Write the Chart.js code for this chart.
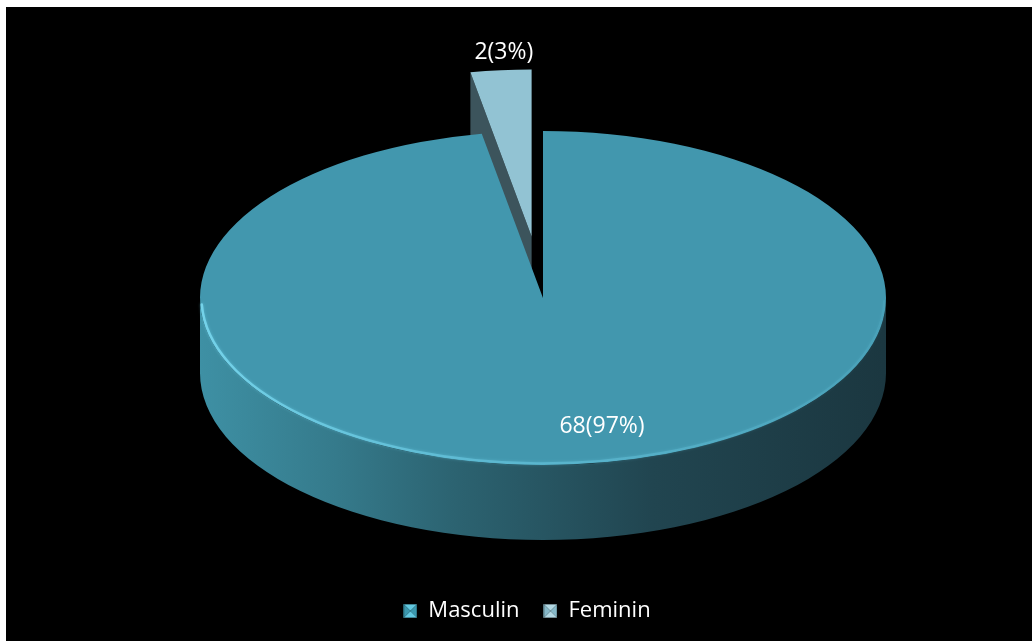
<!DOCTYPE html>
<html>
<head>
<meta charset="utf-8">
<script src="https://cdn.jsdelivr.net/npm/chart.js@4.4.1/dist/chart.umd.min.js"></script>
<style>
    html, body { margin: 0; padding: 0; background: #fff; }
    #wrap { position: absolute; left: 6px; top: 7px; width: 1026px; height: 634px; background: #000; }
</style>
</head>
<body>
<div id="wrap"><canvas id="chartGender"></canvas></div>
<script>
const categories = ['Masculin', 'Feminin'];
const counts = [68, 2];

// Mặt trên, thành bên và mặt cắt của từng miếng
const topColors = ['#4297ae', '#92c3d3'];
const wallStops = [
    ['#3e90a4', '#357a8b', '#2c6371', '#214550', '#1b3740'],
    ['#56727b', '#4a646c', '#3c545c', '#314549', '#2a3a3f']
];
const faceColors = ['#2c6371', '#3c545c'];
const markerColors = [['#62c9e1', '#3b98ae'], ['#b2d8e4', '#86b8c8']];

// Phép chiếu 3D (toạ độ trong canvas)
const CX = 537, CY = 291, RX = 343, RY = 167, DEPTH = 75;
const EXPLODE = [0, 0.37];

const total = counts.reduce((a, b) => a + b, 0);
const labelTexts = counts.map(v => `${v}(${Math.round(v / total * 100)}%)`);

function shiftOf(arc, i) {
    const mid = (arc.startAngle + arc.endAngle) / 2;
    return [RX * EXPLODE[i] * Math.cos(mid), RY * EXPLODE[i] * Math.sin(mid)];
}

function ePoint(a, sx, sy) {
    return [CX + sx + RX * Math.cos(a), CY + sy + RY * Math.sin(a)];
}

// --- Ô vuông chú thích kiểu vát cạnh ---
function bevelMarker(light, dark) {
    const c = document.createElement('canvas');
    c.width = 14; c.height = 14;
    const g = c.getContext('2d');
    const tri = (pts, col) => {
        g.beginPath();
        g.moveTo(pts[0], pts[1]); g.lineTo(pts[2], pts[3]); g.lineTo(7, 7);
        g.closePath();
        g.fillStyle = col;
        g.fill();
    };
    tri([0, 0, 14, 0], light);
    tri([14, 0, 14, 14], dark);
    tri([14, 14, 0, 14], light);
    tri([0, 14, 0, 0], dark);
    g.strokeStyle = 'rgba(0,0,0,0.35)';
    g.lineWidth = 1;
    g.strokeRect(0.5, 0.5, 13, 13);
    return c;
}
const markers = markerColors.map(m => bevelMarker(m[0], m[1]));

// --- Vẽ bánh 3D: mặt cắt, thành bên rồi mới tới mặt trên ---
const pie3d = {
    id: 'pie3d',
    beforeDatasetsDraw(chart) {
        const ctx = chart.ctx;
        const arcs = chart.getDatasetMeta(0).data;

        // mặt cắt nhìn thấy được của các miếng
        arcs.forEach((arc, i) => {
            const [sx, sy] = shiftOf(arc, i);
            const edges = [[arc.startAngle, arc.startAngle - Math.PI / 2], [arc.endAngle, arc.endAngle + Math.PI / 2]];
            edges.forEach(([a, normal]) => {
                if (Math.sin(normal) <= 0.01) return;
                const [ox, oy] = ePoint(a, sx, sy);
                const vx = CX + sx, vy = CY + sy;
                ctx.beginPath();
                ctx.moveTo(vx, vy);
                ctx.lineTo(ox, oy);
                ctx.lineTo(ox, oy + DEPTH);
                ctx.lineTo(vx, vy + DEPTH);
                ctx.closePath();
                ctx.fillStyle = faceColors[i];
                ctx.fill();
            });
        });

        // thành bên phía trước (góc 0..PI)
        arcs.forEach((arc, i) => {
            const [sx, sy] = shiftOf(arc, i);
            [0, 2 * Math.PI].forEach(base => {
                const a0 = Math.max(arc.startAngle, base);
                const a1 = Math.min(arc.endAngle, base + Math.PI);
                if (a1 <= a0) return;
                const grad = ctx.createLinearGradient(CX - RX, 0, CX + RX, 0);
                const stops = wallStops[i];
                [0, 0.2, 0.37, 0.66, 1].forEach((p, k) => grad.addColorStop(p, stops[k]));
                ctx.beginPath();
                ctx.ellipse(CX + sx, CY + sy, RX, RY, 0, a0, a1);
                ctx.ellipse(CX + sx, CY + sy + DEPTH, RX, RY, 0, a1, a0, true);
                ctx.closePath();
                ctx.fillStyle = grad;
                ctx.fill();
            });
        });

        // mặt trên: dùng chính ArcElement của Chart.js, ép thành elip
        arcs.forEach((arc, i) => {
            const [sx, sy] = shiftOf(arc, i);
            ctx.save();
            ctx.translate(CX + sx, CY + sy);
            ctx.scale(RX / arc.outerRadius, RY / arc.outerRadius);
            ctx.translate(-arc.x, -arc.y);
            arc.draw(ctx);
            ctx.restore();
        });

        // viền sáng ở mép trước mặt trên
        const rim = ctx.createLinearGradient(CX - RX, 0, CX + RX, 0);
        rim.addColorStop(0, 'rgba(120,215,238,0.9)');
        rim.addColorStop(0.4, 'rgba(105,200,225,0.6)');
        rim.addColorStop(1, 'rgba(100,195,220,0.15)');
        ctx.save();
        ctx.beginPath();
        ctx.ellipse(CX, CY, RX - 1.5, RY - 1.5, 0, 0.02, Math.PI - 0.04);
        ctx.strokeStyle = rim;
        ctx.lineWidth = 2.5;
        ctx.lineCap = 'round';
        ctx.shadowColor = 'rgba(110,210,235,0.6)';
        ctx.shadowBlur = 3;
        ctx.stroke();
        ctx.restore();

        return false;
    },
    afterDraw(chart) {
        const ctx = chart.ctx;
        const arcs = chart.getDatasetMeta(0).data;
        ctx.save();
        ctx.font = '23px "Open Sans"';
        ctx.fillStyle = '#ffffff';
        ctx.textAlign = 'center';
        ctx.textBaseline = 'middle';
        arcs.forEach((arc, i) => {
            const [sx, sy] = shiftOf(arc, i);
            const mid = (arc.startAngle + arc.endAngle) / 2;
            const share = counts[i] / total;
            if (share > 0.1) {
                // nhãn nằm trong miếng lớn
                const [x, y] = ePoint(mid, 0, 0).map((v, k) => k === 0 ? CX + (v - CX) * 0.78 : CY + (v - CY) * 0.78);
                ctx.fillText(labelTexts[i], x + 35 + sx, y - 1 + sy);
            } else {
                // nhãn nằm ngoài miếng nhỏ
                const [x, y] = ePoint(mid, sx, sy);
                ctx.fillText(labelTexts[i], x + 3, y - 18);
            }
        });
        ctx.restore();
    }
};

new Chart(document.getElementById('chartGender'), {
    type: 'pie',
    data: {
        labels: categories,
        datasets: [{
            data: counts,
            backgroundColor: topColors,
            borderWidth: 0
        }]
    },
    options: {
        responsive: true,
        maintainAspectRatio: false,
        animation: false,
        layout: { padding: { left: 16, bottom: 9 } },
        plugins: {
            tooltip: { enabled: false },
            legend: {
                position: 'bottom',
                labels: {
                    color: '#ffffff',
                    font: { family: 'Open Sans', size: 22 },
                    usePointStyle: true,
                    boxWidth: 14,
                    boxHeight: 14,
                    padding: 24,
                    generateLabels: (chart) => categories.map((name, i) => ({
                        text: name,
                        fillStyle: topColors[i],
                        strokeStyle: topColors[i],
                        fontColor: '#ffffff',
                        lineWidth: 0,
                        pointStyle: markers[i],
                        hidden: false,
                        index: i
                    }))
                }
            }
        }
    },
    plugins: [pie3d]
});
</script>
</body>
</html>
